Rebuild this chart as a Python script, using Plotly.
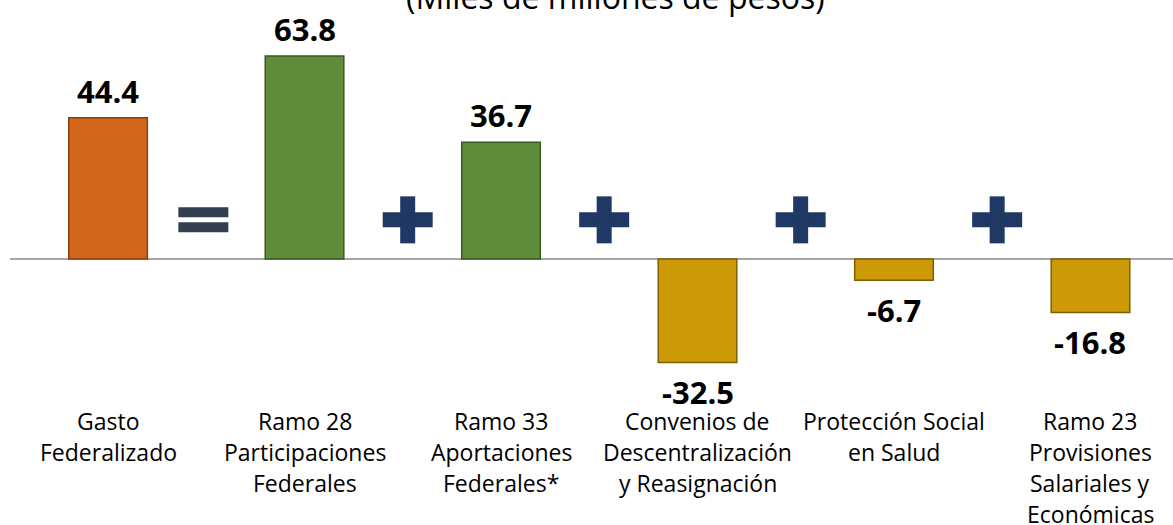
import plotly.graph_objects as go

categories = [
    "Gasto<br>Federalizado",
    "Ramo 28<br>Participaciones<br>Federales",
    "Ramo 33<br>Aportaciones<br>Federales*",
    "Convenios de<br>Descentralización<br>y Reasignación",
    "Protección Social<br>en Salud",
    "Ramo 23<br>Provisiones<br>Salariales y<br>Económicas",
]
values = [44.4, 63.8, 36.7, -32.5, -6.7, -16.8]
bar_colors = ["#D2661A", "#5E8C3B", "#5E8C3B", "#CC9A06", "#CC9A06", "#CC9A06"]
edge_colors = ["#8A3F0C", "#3A5A22", "#3A5A22", "#7F5F00", "#7F5F00", "#7F5F00"]
symbols = ["=", "+", "+", "+", "+"]
title_text = "(Miles de millones de pesos)"

W, H = 1173, 525
ML = 10
x_idx = list(range(len(categories)))

fig = go.Figure()
fig.add_trace(go.Bar(
    x=x_idx, y=values, width=0.4,
    marker=dict(color=bar_colors, line=dict(color=edge_colors, width=1.5)),
    hoverinfo="skip",
))

annotations = []
# value labels
for i, v in zip(x_idx, values):
    annotations.append(dict(
        x=i, y=v, xref="x", yref="y", text=f"{v:.1f}", showarrow=False,
        yanchor="middle", yshift=27 if v > 0 else -30,
        font=dict(family="Open Sans", size=31, color="black", weight="bold"),
    ))
# category labels, one annotation per line
for i, cat in zip(x_idx, categories):
    for k, line in enumerate(cat.split("<br>")):
        py = 421 + 31 * k
        annotations.append(dict(
            x=i, xref="x", y=1 - py / H, yref="paper", text=line, showarrow=False,
            yanchor="middle", font=dict(family="Open Sans", size=23, color="black"),
        ))
# title (cut at top)
annotations.append(dict(
    x=(615 - ML) / (W - ML), xref="paper", y=1 - 20 / H, yref="paper",
    yanchor="bottom", text=title_text, showarrow=False,
    font=dict(family="Open Sans", size=32, color="black"),
))

shapes = []
sym_y = 12.3
for j, s in enumerate(symbols):
    xa = j + 0.5 + (0.0 if s == "=" else 0.025)
    if s == "=":
        col = "#333F50"
        for (y0, y1) in [(2.5, 12.5), (-12.5, -2.5)]:
            shapes.append(dict(type="rect", xref="x", yref="y", xsizemode="pixel", ysizemode="pixel",
                               xanchor=xa - 0.015, yanchor=sym_y, x0=-25, x1=25, y0=y0, y1=y1,
                               fillcolor=col, line=dict(width=0)))
    else:
        col = "#1F3864"
        shapes.append(dict(type="rect", xref="x", yref="y", xsizemode="pixel", ysizemode="pixel",
                           xanchor=xa, yanchor=sym_y, x0=-25, x1=25, y0=-7.5, y1=7.5,
                           fillcolor=col, line=dict(width=0)))
        shapes.append(dict(type="rect", xref="x", yref="y", xsizemode="pixel", ysizemode="pixel",
                           xanchor=xa, yanchor=sym_y, x0=-7.5, x1=7.5, y0=-23.5, y1=23.5,
                           fillcolor=col, line=dict(width=0)))

fig.update_layout(
    width=W, height=H,
    margin=dict(l=ML, r=0, t=0, b=0),
    paper_bgcolor="white", plot_bgcolor="white",
    showlegend=False,
    xaxis=dict(range=[-0.499, 5.42], visible=False, fixedrange=True),
    yaxis=dict(range=[-83.6, 81.4], showgrid=False, showticklabels=False, ticks="",
               zeroline=True, zerolinecolor="#A6A6A6", zerolinewidth=2, fixedrange=True),
    annotations=annotations,
    shapes=shapes,
)

fig.write_html("out.html", config={"displayModeBar": False},
               post_script="document.body.style.margin='0';document.body.style.overflow='hidden';")
